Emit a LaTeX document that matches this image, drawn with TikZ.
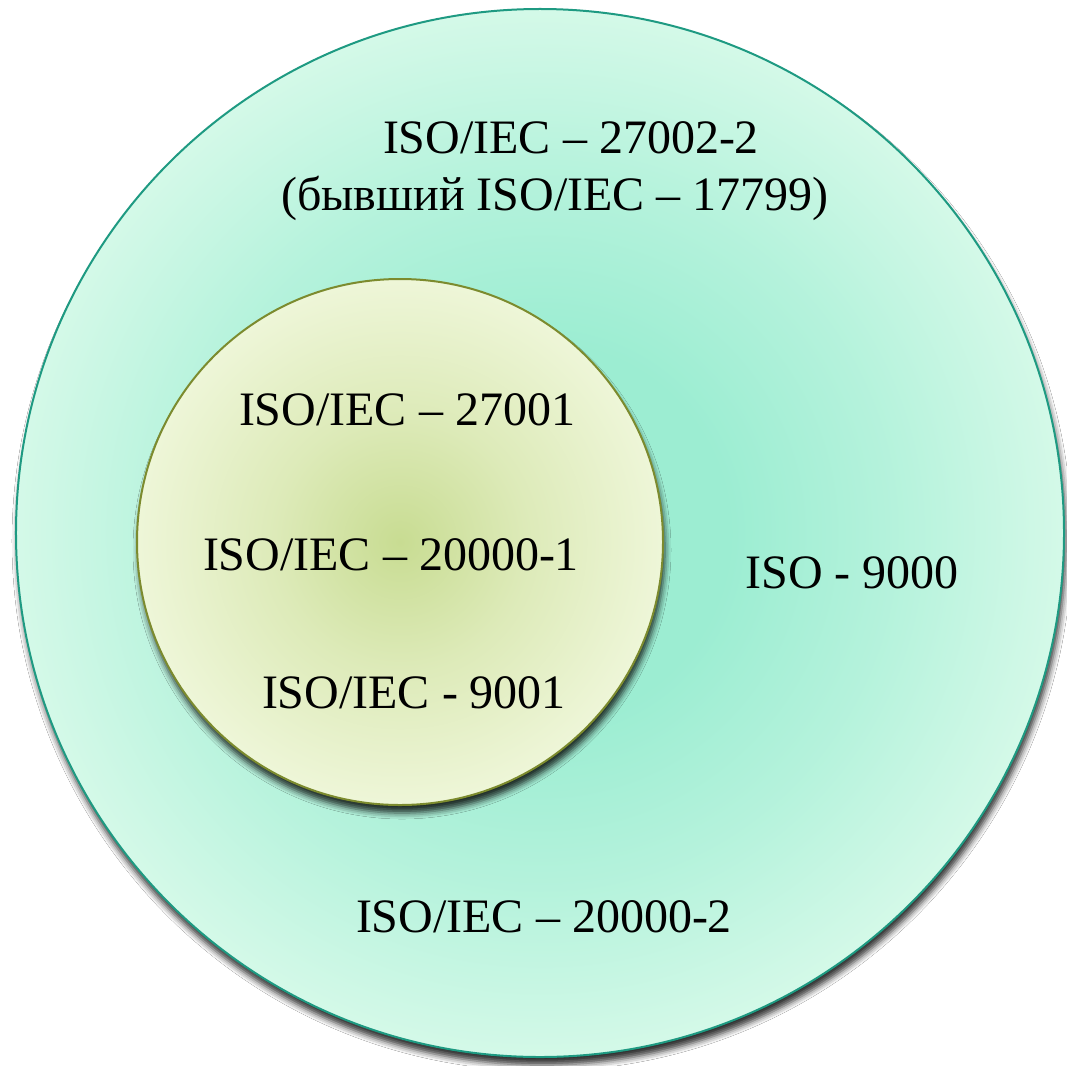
\documentclass[tikz,border=0pt]{standalone}
\usepackage{fontspec}
\setmainfont{Liberation Serif}
\usetikzlibrary{shadows.blur}
\definecolor{outerC}{HTML}{9CEDD2}
\definecolor{outerE}{HTML}{D4F9E8}
\definecolor{outerLine}{HTML}{1E9A82}
\definecolor{innerC}{HTML}{C8DC92}
\definecolor{innerE}{HTML}{EEF6D8}
\definecolor{innerLine}{HTML}{7C8B2E}
\pgfdeclareradialshading{outershade}{\pgfpoint{0bp}{0bp}}{color(0bp)=(outerC); color(9bp)=(outerC); color(17bp)=(outerC!55!outerE); color(25bp)=(outerE); color(50bp)=(outerE)}
\pgfdeclareradialshading{innershade}{\pgfpoint{0bp}{0bp}}{color(0bp)=(innerC); color(12bp)=(innerC!45!innerE); color(25bp)=(innerE); color(50bp)=(innerE)}
\tikzset{
  lbl/.style={anchor=base, inner sep=0pt, font=\fontsize{48bp}{56bp}\selectfont, text=black},
  disc/.style={circle, inner sep=0pt, outer sep=0pt,
    blur shadow={shadow xshift=2bp, shadow yshift=-8bp, shadow blur radius=6bp, shadow opacity=80}}
}
\begin{document}
\begin{tikzpicture}[x=1bp,y=-1bp]
\useasboundingbox[fill=white] (0,0) rectangle (1067,1066);
\node[disc, minimum size=1048bp, shading=outershade, draw=outerLine, line width=2bp] (outer) at (540,533) {};
\node[disc, minimum size=526bp, shading=innershade, draw=innerLine, line width=2bp] (inner) at (400,542) {};
\node[lbl] (t1) at (571,153) {ISO/IEC – 27002-2};
\node[lbl] (t2) at (555,210) {(бывший ISO/IEC – 17799)};
\node[lbl] (a) at (407,425) {ISO/IEC – 27001};
\node[lbl] (b) at (391,570) {ISO/IEC – 20000-1};
\node[lbl] (c) at (414,708) {ISO/IEC - 9001};
\node[lbl] (d) at (852,588) {ISO - 9000};
\node[lbl] (e) at (544,932) {ISO/IEC – 20000-2};
\end{tikzpicture}
\end{document}
